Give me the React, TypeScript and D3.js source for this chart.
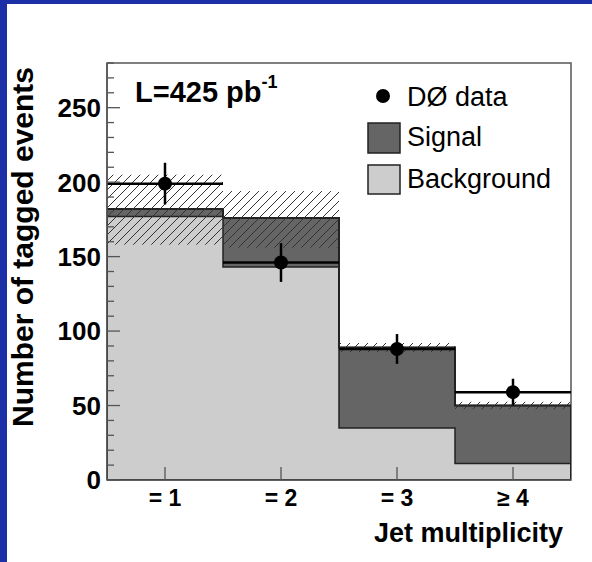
import React from "react";
import * as d3 from "d3";

const categories = ["= 1", "= 2", "= 3", "\u2265 4"];
const background = [177, 143, 35, 11];
const signal = [5, 33, 54, 39];
const uncUp = [23, 18, 3, 2.5];
const uncDown = [24, 20, 3, 2.5];
const dataValues = [199, 146, 88, 59];
const dataErrors = [14, 13, 10, 9];
const yMajorTicks = [0, 50, 100, 150, 200, 250];

const W = 592;
const H = 562;
const FONT = "'Liberation Sans', Arial, Helvetica, sans-serif";

export default function App() {
  const x = d3.scaleLinear().domain([0.5, 4.5]).range([107, 571]);
  const y = d3.scaleLinear().domain([0, 280]).range([480, 63]);
  const minorTicks = d3.range(0, 281, 10);
  const totals = background.map((b, i) => b + signal[i]);

  const stepPath = (vals: number[]) => {
    let p = `M${x(0.5)},${y(0)}`;
    vals.forEach((v, i) => {
      p += `L${x(i + 0.5)},${y(v)}L${x(i + 1.5)},${y(v)}`;
    });
    p += `L${x(4.5)},${y(0)}Z`;
    return p;
  };

  const blue = "#1b30a6";
  const lineCol = "#222";

  return (
    <svg width={W} height={H} style={{ position: "absolute", left: 0, top: 0 }}>
      <defs>
        <pattern id="hatch" patternUnits="userSpaceOnUse" width={9} height={9}>
          <path d="M-1,1 L1,-1 M0,9 L9,0 M8,10 L10,8" stroke="#333" strokeWidth={1} />
        </pattern>
        <clipPath id="plotClip">
          <rect x={x(0.5)} y={y(280)} width={x(4.5) - x(0.5)} height={y(0) - y(280)} />
        </clipPath>
      </defs>
      <rect x={0} y={0} width={W} height={H} fill={blue} />
      <rect x={7} y={4} width={W - 7} height={H - 4} fill="#ffffff" />

      {/* frame */}
      <rect x={x(0.5)} y={y(280)} width={x(4.5) - x(0.5)} height={y(0) - y(280)} fill="#fff" stroke="#555" strokeWidth={1.5} />

      <g clipPath="url(#plotClip)">
        {/* total (signal) fill */}
        <path d={stepPath(totals)} fill="#656565" stroke={lineCol} strokeWidth={1.5} />
        {/* background fill */}
        <path d={stepPath(background)} fill="#cdcdcd" stroke={lineCol} strokeWidth={1.5} />
        {/* total outline on top */}
        <path d={stepPath(totals)} fill="none" stroke={lineCol} strokeWidth={2} />
        {/* uncertainty hatch */}
        {totals.map((t, i) => (
          <rect
            key={"h" + i}
            x={x(i + 0.5)}
            y={y(t + uncUp[i])}
            width={x(i + 1.5) - x(i + 0.5)}
            height={y(t - uncDown[i]) - y(t + uncUp[i])}
            fill="url(#hatch)"
          />
        ))}
        {/* data points */}
        {dataValues.map((v, i) => (
          <g key={"d" + i}>
            <line x1={x(i + 0.5)} x2={x(i + 1.5)} y1={y(v)} y2={y(v)} stroke="#000" strokeWidth={2.5} />
            <line x1={x(i + 1)} x2={x(i + 1)} y1={y(v - dataErrors[i])} y2={y(v + dataErrors[i])} stroke="#000" strokeWidth={2.5} />
            <circle cx={x(i + 1)} cy={y(v)} r={7} fill="#000" />
          </g>
        ))}
      </g>

      {/* axes lines */}
      <line x1={x(0.5)} x2={x(0.5)} y1={y(0)} y2={y(280)} stroke="#555" strokeWidth={1.5} />
      <line x1={x(0.5)} x2={x(4.5)} y1={y(0)} y2={y(0)} stroke="#555" strokeWidth={1.5} />

      {/* y ticks */}
      {minorTicks.map((t) => (
        <line
          key={"m" + t}
          x1={x(0.5)}
          x2={x(0.5) + (t % 50 === 0 ? 13 : 7)}
          y1={y(t)}
          y2={y(t)}
          stroke="#555"
          strokeWidth={1.3}
        />
      ))}
      {yMajorTicks.map((t) => (
        <text
          key={"yl" + t}
          x={101}
          y={y(t)}
          dy="0.36em"
          textAnchor="end"
          fontFamily={FONT}
          fontWeight="bold"
          fontSize={26}
          fill="#000"
        >
          {t}
        </text>
      ))}

      {/* x ticks */}
      {categories.map((c, i) => (
        <g key={"x" + i}>
          <line x1={x(i + 1)} x2={x(i + 1)} y1={y(0)} y2={y(0) - 13} stroke="#555" strokeWidth={1.3} />
          <text
            x={x(i + 1)}
            y={506}
            textAnchor="middle"
            fontFamily={FONT}
            fontWeight="bold"
            fontSize={23}
            fill="#000"
          >
            {c}
          </text>
        </g>
      ))}

      {/* axis titles */}
      <text
        x={563}
        y={542}
        textAnchor="end"
        fontFamily={FONT}
        fontWeight="bold"
        fontSize={27}
        fill="#000"
      >
        Jet multiplicity
      </text>
      <text
        transform={`translate(33,247) rotate(-90)`}
        textAnchor="middle"
        fontFamily={FONT}
        fontWeight="bold"
        fontSize={30}
        fill="#000"
      >
        Number of tagged events
      </text>

      {/* luminosity label */}
      <text x={135} y={102} fontFamily={FONT} fontWeight="bold" fontSize={29} fill="#000">
        L=425 pb
        <tspan dy={-14} fontSize={18}>-1</tspan>
      </text>

      {/* legend */}
      <circle cx={383} cy={96} r={7} fill="#000" />
      <text x={407} y={106} fontFamily={FONT} fontSize={27} fill="#000">
        DØ data
      </text>
      <rect x={368} y={123} width={32} height={30} fill="#656565" stroke={lineCol} strokeWidth={1.5} />
      <text x={407} y={146} fontFamily={FONT} fontSize={27} fill="#000">
        Signal
      </text>
      <rect x={368} y={165} width={32} height={29} fill="#cdcdcd" stroke={lineCol} strokeWidth={1.5} />
      <text x={407} y={188} fontFamily={FONT} fontSize={27} fill="#000">
        Background
      </text>
    </svg>
  );
}
